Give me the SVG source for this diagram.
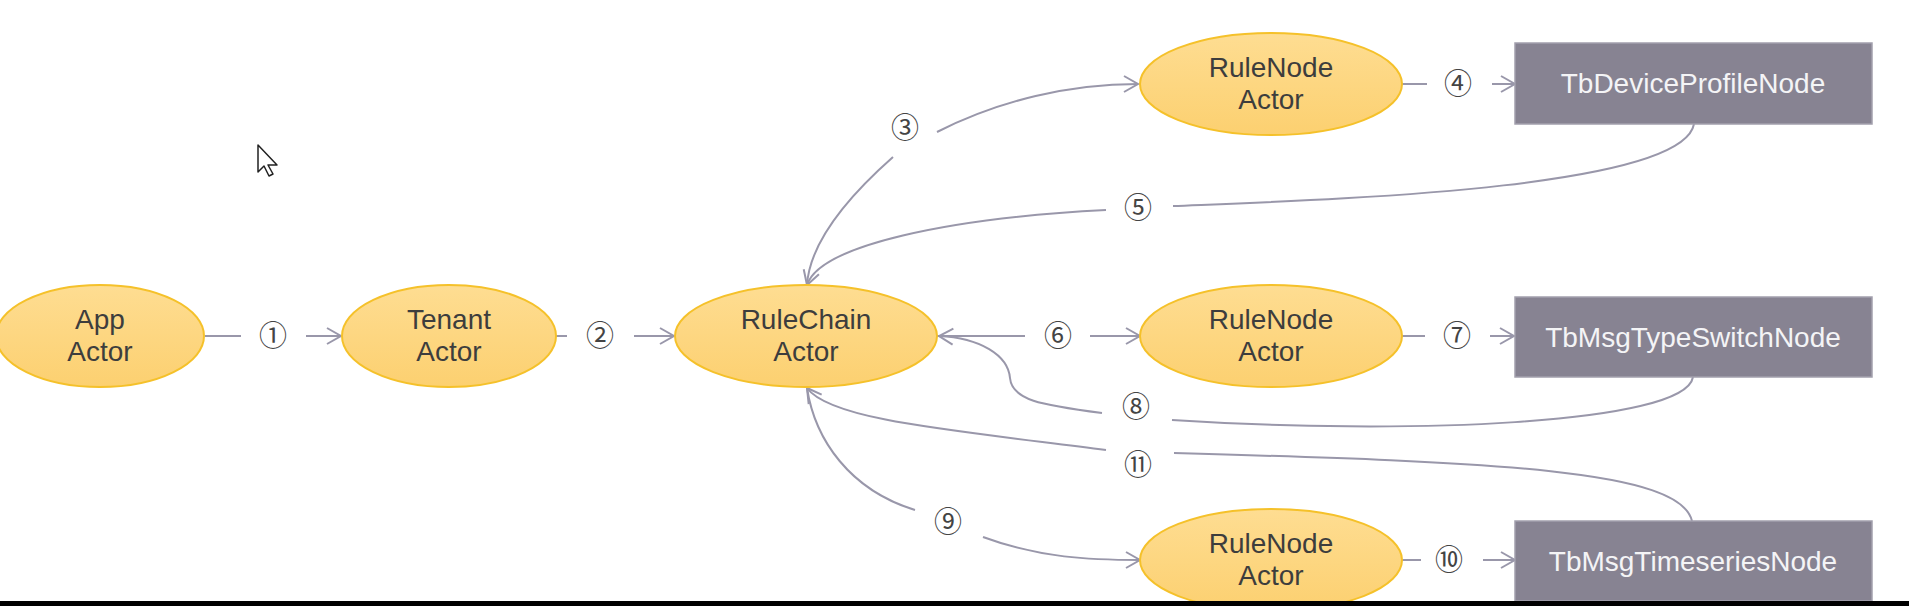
<svg xmlns="http://www.w3.org/2000/svg" width="1909" height="606" viewBox="0 0 1909 606">
<style>
.act{fill:url(#yg);stroke:#f5c12a;stroke-width:2}
.box{fill:#878392;stroke:#a3a0ad;stroke-width:1.5}
.t{font-family:"Liberation Sans",Arial,sans-serif;font-size:28px;fill:#3d3d3d;text-anchor:middle}
.bt{font-family:"Liberation Sans",Arial,sans-serif;font-size:28px;fill:#f4f4f6;text-anchor:middle}
.n{font-family:"Noto Sans CJK SC","DejaVu Sans",sans-serif;font-size:28px;fill:#444;text-anchor:middle}
.e{fill:none;stroke:#9997aa;stroke-width:2}
.ea{fill:none;stroke:#9997aa;stroke-width:2;marker-end:url(#ah)}
</style>
<defs>
<linearGradient id="yg" x1="0" y1="0" x2="0" y2="1">
<stop offset="0" stop-color="#fedd92"/>
<stop offset="1" stop-color="#fcd070"/>
</linearGradient>
<marker id="ah" viewBox="-16 -10 18 20" refX="0" refY="0" markerWidth="18" markerHeight="20" markerUnits="userSpaceOnUse" orient="auto">
<path d="M-14,-8 L0,0 L-14,8" fill="none" stroke="#9997aa" stroke-width="2"/>
</marker>
</defs>
<rect width="1909" height="606" fill="#ffffff"/>

<g id="connectors">
<line class="e" x1="205" y1="336" x2="241" y2="336"/>
<line class="ea" x1="306" y1="336" x2="341" y2="336"/>
<line class="e" x1="556" y1="336" x2="567" y2="336"/>
<line class="ea" x1="634" y1="336" x2="674" y2="336"/>
<path class="e" d="M893,157 C850,195 810,240 807,285"/>
<path class="ea" d="M937,132 C1000,100 1070,84 1138,84"/>
<line class="e" x1="1402" y1="84" x2="1427" y2="84"/>
<line class="ea" x1="1492" y1="84" x2="1515" y2="84"/>
<path class="e" d="M1694,124 C1682,190 1320,200 1173,206"/>
<path class="ea" d="M1106,210 C950,218 820,245 807,285"/>
<line class="e" x1="937" y1="336" x2="1025" y2="336"/>
<line class="ea" x1="1090" y1="336" x2="1140" y2="336"/>
<line class="e" x1="1402" y1="336" x2="1425" y2="336"/>
<line class="ea" x1="1490" y1="336" x2="1514" y2="336"/>
<path class="e" d="M1693,377 C1685,425 1400,435 1172,420"/>
<path class="ea" d="M1102,413 C1040,405 1012,400 1010,378 C1008,355 980,338 939,336"/>
<path class="e" d="M1692,521 C1680,470 1500,462 1174,453"/>
<path class="ea" d="M1106,450 C950,430 830,420 807,388"/>
<path class="e" d="M807,388 C815,440 850,490 915,510"/>
<path class="ea" d="M983,537 C1040,558 1090,560 1140,560"/>
<line class="e" x1="1402" y1="560" x2="1421" y2="560"/>
<line class="ea" x1="1483" y1="560" x2="1515" y2="560"/>
</g>

<g id="labels">
<text class="n" x="273" y="346">①</text>
<text class="n" x="600" y="346">②</text>
<text class="n" x="905" y="138">③</text>
<text class="n" x="1458" y="94">④</text>
<text class="n" x="1138" y="218">⑤</text>
<text class="n" x="1058" y="346">⑥</text>
<text class="n" x="1457" y="346">⑦</text>
<text class="n" x="1136" y="417">⑧</text>
<text class="n" x="948" y="532">⑨</text>
<text class="n" x="1449" y="570">⑩</text>
<text class="n" x="1138" y="475">⑪</text>
</g>

<g id="app-actor">
<ellipse class="act" cx="100" cy="336" rx="104" ry="51"/>
<text class="t" x="100" y="329">App</text>
<text class="t" x="100" y="361">Actor</text>
</g>
<g id="tenant-actor">
<ellipse class="act" cx="449" cy="336" rx="107" ry="51"/>
<text class="t" x="449" y="329">Tenant</text>
<text class="t" x="449" y="361">Actor</text>
</g>
<g id="rulechain-actor">
<ellipse class="act" cx="806" cy="336" rx="131" ry="51"/>
<text class="t" x="806" y="329">RuleChain</text>
<text class="t" x="806" y="361">Actor</text>
</g>
<g id="rulenode-actor-1">
<ellipse class="act" cx="1271" cy="84" rx="131" ry="51"/>
<text class="t" x="1271" y="77">RuleNode</text>
<text class="t" x="1271" y="109">Actor</text>
</g>
<g id="rulenode-actor-2">
<ellipse class="act" cx="1271" cy="336" rx="131" ry="51"/>
<text class="t" x="1271" y="329">RuleNode</text>
<text class="t" x="1271" y="361">Actor</text>
</g>
<g id="rulenode-actor-3">
<ellipse class="act" cx="1271" cy="560" rx="131" ry="51"/>
<text class="t" x="1271" y="553">RuleNode</text>
<text class="t" x="1271" y="585">Actor</text>
</g>
<g id="tb-device-profile-node">
<rect class="box" x="1515" y="43" width="357" height="81"/>
<text class="bt" x="1693" y="93">TbDeviceProfileNode</text>
</g>
<g id="tb-msg-type-switch-node">
<rect class="box" x="1515" y="297" width="357" height="80"/>
<text class="bt" x="1693" y="347">TbMsgTypeSwitchNode</text>
</g>
<g id="tb-msg-timeseries-node">
<rect class="box" x="1515" y="521" width="357" height="80"/>
<text class="bt" x="1693" y="571">TbMsgTimeseriesNode</text>
</g>

<path d="M258,145 L258,172 L264,166 L269,176 L273,174 L268,165 L277,165 Z" fill="#ffffff" stroke="#222" stroke-width="1.5" stroke-linejoin="round"/>
<rect x="0" y="601" width="1909" height="5" fill="#000"/>
</svg>
